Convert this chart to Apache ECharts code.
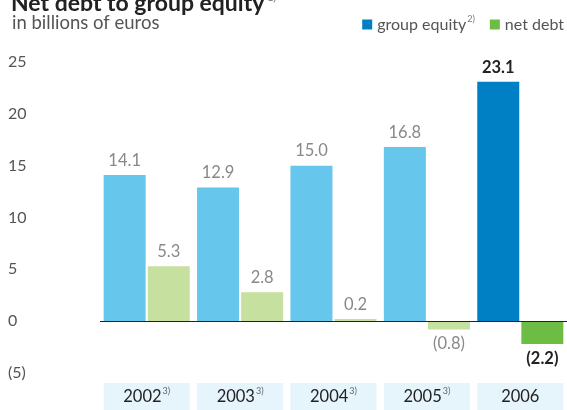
<!DOCTYPE html>
<html>
<head>
<meta charset="utf-8">
<script src="https://cdn.jsdelivr.net/npm/echarts@6/dist/echarts.min.js"></script>
<style>
  html, body { margin: 0; padding: 0; background: #fff; }
  #chart { width: 567px; height: 410px; }
</style>
</head>
<body>
<div id="chart"></div>
<script>
var years = ['2002', '2003', '2004', '2005', '2006'];
var yearNotes = ['3)', '3)', '3)', '3)', ''];
var groupEquity = [14.1, 12.9, 15.0, 16.8, 23.1];
var netDebt = [5.3, 2.8, 0.2, -0.8, -2.2];
var yTicks = [-5, 0, 5, 10, 15, 20, 25];

var FONT = 'Lato, "Open Sans", sans-serif';
var equityLight = '#66c6ec', equityDark = '#0080c4';
var debtLight = '#c6e09f', debtDark = '#6dbd45';

function fmt(v) {
    return v < 0 ? '(' + Math.abs(v).toFixed(1) + ')' : v.toFixed(1);
}

// build bar data, the last year is highlighted
function buildData(values, light, dark) {
    var out = [];
    for (var i = 0; i < values.length; i++) {
        var last = i == values.length - 1;
        out.push({
            value: values[i],
            itemStyle: { color: last ? dark : light },
            label: {
                position: values[i] < 0 ? 'bottom' : 'top',
                color: last ? '#222' : '#888',
                fontWeight: last ? 'bold' : 'normal'
            }
        });
    }
    return out;
}

var myChart = echarts.init(document.getElementById('chart'));

var option = {
    animation: false,
    textStyle: { fontFamily: FONT },
    title: [{
        text: 'Net debt to group equity{s|1)}',
        left: 6,
        top: -13,
        textStyle: {
            fontFamily: FONT, fontSize: 23, fontWeight: 'bold', color: '#222',
            rich: { s: { fontSize: 10, color: '#888', padding: [0, 0, 12, 3] } }
        }
    }, {
        text: 'in billions of euros',
        left: 7,
        top: 9,
        textStyle: { fontFamily: FONT, fontSize: 18.5, fontWeight: 'normal', color: '#555' }
    }],
    legend: {
        right: 3,
        top: 15,
        padding: 0,
        icon: 'rect',
        itemWidth: 10,
        itemHeight: 10,
        itemGap: 15,
        data: ['group equity', 'net debt'],
        formatter: function (name) {
            return name == 'group equity' ? name + '{s|2)}' : name;
        },
        textStyle: {
            fontFamily: FONT, fontSize: 16, color: '#555',
            rich: { s: { fontSize: 9, color: '#777', padding: [0, 0, 10, 1] } }
        }
    },
    grid: { left: 100, width: 468, top: 62, bottom: 37 },
    xAxis: {
        type: 'category',
        data: years,
        axisLine: { show: false, onZero: false },
        axisTick: { show: false },
        axisLabel: {
            margin: 10,
            backgroundColor: '#e6f4fb',
            width: 86,
            height: 27,
            lineHeight: 27,
            align: 'center',
            verticalAlign: 'top',
            formatter: function (v, i) {
                return yearNotes[i] ? '{y|' + v + '}{s|' + yearNotes[i] + '}' : '{y|' + v + '}';
            },
            rich: {
                y: { fontFamily: FONT, fontSize: 16.5, color: '#222', lineHeight: 27 },
                s: { fontFamily: FONT, fontSize: 9, color: '#666', padding: [0, 0, 10, 1] }
            }
        }
    },
    yAxis: {
        type: 'value',
        min: yTicks[0],
        max: yTicks[yTicks.length - 1],
        interval: 5,
        axisLine: { show: false },
        axisTick: { show: false },
        splitLine: { show: false },
        axisLabel: {
            margin: 92,
            align: 'left',
            fontFamily: FONT,
            fontSize: 16,
            color: '#555',
            formatter: function (v) {
                return v < 0 ? '(' + Math.abs(v) + ')' : String(v);
            }
        }
    },
    series: [{
        name: 'group equity',
        type: 'bar',
        barWidth: 42,
        barGap: '5%',
        itemStyle: { color: equityDark },
        label: {
            show: true,
            distance: 6,
            fontFamily: FONT,
            fontSize: 16.5,
            formatter: function (p) { return fmt(p.value); }
        },
        data: buildData(groupEquity, equityLight, equityDark),
        markLine: {
            silent: true,
            symbol: 'none',
            label: { show: false },
            lineStyle: { color: '#222', type: 'solid', width: 1 },
            data: [{ yAxis: 0 }]
        },
        z: 2
    }, {
        name: 'net debt',
        type: 'bar',
        barWidth: 42,
        barGap: '5%',
        itemStyle: { color: debtDark },
        label: {
            show: true,
            distance: 6,
            fontFamily: FONT,
            fontSize: 16.5,
            formatter: function (p) { return fmt(p.value); }
        },
        data: buildData(netDebt, debtLight, debtDark)
    }]
};

myChart.setOption(option);
</script>
</body>
</html>
